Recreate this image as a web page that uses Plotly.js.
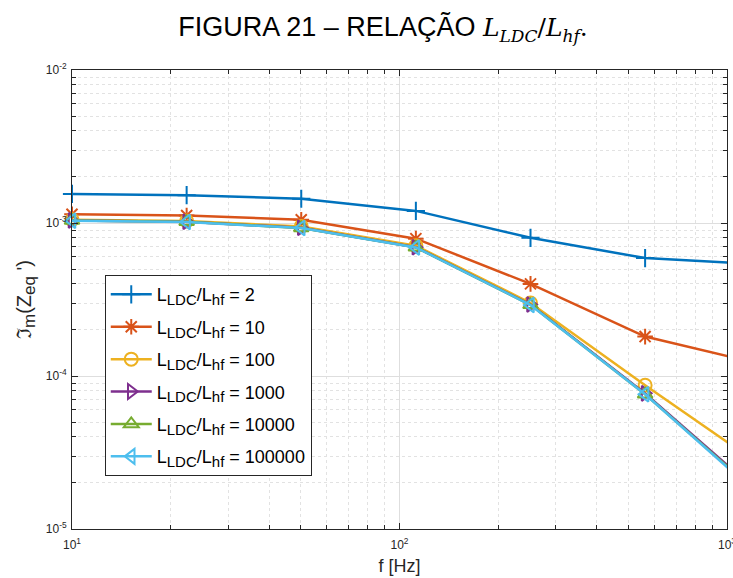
<!DOCTYPE html>
<html>
<head>
<meta charset="utf-8">
<script src="https://cdn.plot.ly/plotly-3.0.1.min.js"></script>
<style>
  html, body { margin: 0; padding: 0; background: #fff; }
  #chart { width: 733px; height: 578px; }
</style>
</head>
<body>
<div id="chart"></div>
<script>
// Frequency samples [Hz] (log-spaced, 0.35 decade step)
const freq = [10, 22.39, 50.12, 112.2, 251.2, 562.3, 1258.9];

// Imaginary part of Z_eq' for each inductance ratio L_LDC/L_hf
const ratioLabels = ['2', '10', '100', '1000', '10000', '100000'];
const imZ_2      = [1.55e-3, 1.52e-3, 1.44e-3, 1.20e-3, 8.0e-4, 5.9e-4, 5.36e-4];
const imZ_10     = [1.14e-3, 1.12e-3, 1.05e-3, 7.9e-4, 4.0e-4, 1.81e-4, 1.20e-4];
const imZ_100    = [1.05e-3, 1.03e-3, 9.5e-4, 7.1e-4, 3.0e-4, 8.7e-5, 2.63e-5];
const imZ_1000   = [1.04e-3, 1.02e-3, 9.3e-4, 6.95e-4, 2.93e-4, 7.7e-5, 1.71e-5];
const imZ_10000  = [1.037e-3, 1.018e-3, 9.28e-4, 6.93e-4, 2.92e-4, 7.6e-5, 1.67e-5];
const imZ_100000 = [1.035e-3, 1.016e-3, 9.27e-4, 6.92e-4, 2.91e-4, 7.59e-5, 1.64e-5];

// Axis decades and their labels
const xDecades = [10, 100, 1000];
const xDecadeLabels = ['10<sup>1</sup>', '10<sup>2</sup>', '10<sup>3</sup>'];
const yDecades = [1e-5, 1e-4, 1e-3, 1e-2];
const yDecadeLabels = ['10<sup>-5</sup>', '10<sup>-4</sup>', '10<sup>-3</sup>', '10<sup>-2</sup>'];

const series = [imZ_2, imZ_10, imZ_100, imZ_1000, imZ_10000, imZ_100000];
const colors = ['#0072BD', '#D95319', '#EDB120', '#7E2F8E', '#77AC30', '#4DBEEE'];
const symbols = ['cross-thin-open', 'asterisk-open', 'circle-open',
                 'triangle-right-open', 'triangle-up-open', 'triangle-left-open'];

const axisColor = '#262626';
const baseFont = 'Liberation Sans, Arial, Helvetica, sans-serif';
const mathFont = 'DejaVu Serif, Liberation Serif, serif';

// Minor (2..9) ticks within each decade of a log axis
function minorTicks(decades) {
  const out = [];
  for (let i = 0; i < decades.length - 1; i++) {
    for (let k = 2; k <= 9; k++) out.push(decades[i] * k);
  }
  return out;
}

const sub = (t, px) => '<sub><span style="font-size:' + px + 'px">' + t + '</span></sub>';

const traces = series.map((ys, i) => ({
  type: 'scatter',
  mode: 'lines+markers',
  x: freq,
  y: ys,
  name: 'L' + sub('LDC', 15) + '/L' + sub('hf', 15) + ' = ' + ratioLabels[i],
  legendgroup: 'g' + i,
  line: { color: colors[i], width: 2.5 },
  marker: { symbol: symbols[i], size: 13, color: colors[i],
            line: { color: colors[i], width: 2 } },
  cliponaxis: false
}));

function logAxis(vals, labels, rng, title, standoff) {
  return {
    type: 'log',
    range: rng,
    tickmode: 'array',
    tickvals: vals,
    ticktext: labels,
    tickfont: { size: 12, color: axisColor },
    ticklabeloverflow: 'allow',
    ticklabelstandoff: standoff,
    ticks: 'inside', ticklen: 6, tickcolor: axisColor,
    showline: true, linecolor: axisColor, linewidth: 1, mirror: 'allticks',
    showgrid: true, gridcolor: '#dedede', gridwidth: 1,
    zeroline: false,
    minor: { tickmode: 'array', tickvals: minorTicks(vals),
             ticks: 'inside', ticklen: 4, tickcolor: axisColor,
             showgrid: true, gridcolor: '#e2e2e2', griddash: 'dot', gridwidth: 1 },
    title: title
  };
}

const mathSub = t => '<sub><span style="font-size:17px"><i>' + t + '</i></span></sub>';

const layout = {
  width: 733,
  height: 578,
  paper_bgcolor: '#ffffff',
  plot_bgcolor: '#ffffff',
  font: { family: baseFont, color: axisColor },
  margin: { l: 72, r: 6, t: 70, b: 49 },
  showlegend: true,
  title: {
    text: 'FIGURA 21 – RELAÇÃO <span style="font-family:' + mathFont + ';font-size:25px"><i>L</i>' +
          mathSub('LDC') + '/<i>L</i>' + mathSub('hf') + '.</span>',
    font: { family: baseFont, size: 27, color: '#000000' },
    x: 383 / 733, xref: 'container', xanchor: 'center',
    y: 1 - 27 / 578, yref: 'container', yanchor: 'middle'
  },
  xaxis: logAxis(xDecades, xDecadeLabels, [1, 3],
    { text: 'f [Hz]', font: { size: 18, color: axisColor }, standoff: 7 }, 5),
  yaxis: logAxis(yDecades, yDecadeLabels, [-5, -2],
    { text: 'ℑ' + sub('m', 17) + '(Z' + sub('eq', 17) + ' \')', font: { size: 20, color: axisColor }, standoff: 8 }, 2),
  legend: {
    x: 0.05, xanchor: 'left',
    y: 0.553, yanchor: 'top',
    bgcolor: '#ffffff',
    bordercolor: axisColor,
    borderwidth: 1,
    font: { family: baseFont, size: 18, color: '#000000' },
    itemwidth: 41,
    traceorder: 'grouped',
    tracegroupgap: 6
  }
};

Plotly.newPlot('chart', traces, layout, { displayModeBar: false, staticPlot: true });
</script>
</body>
</html>
